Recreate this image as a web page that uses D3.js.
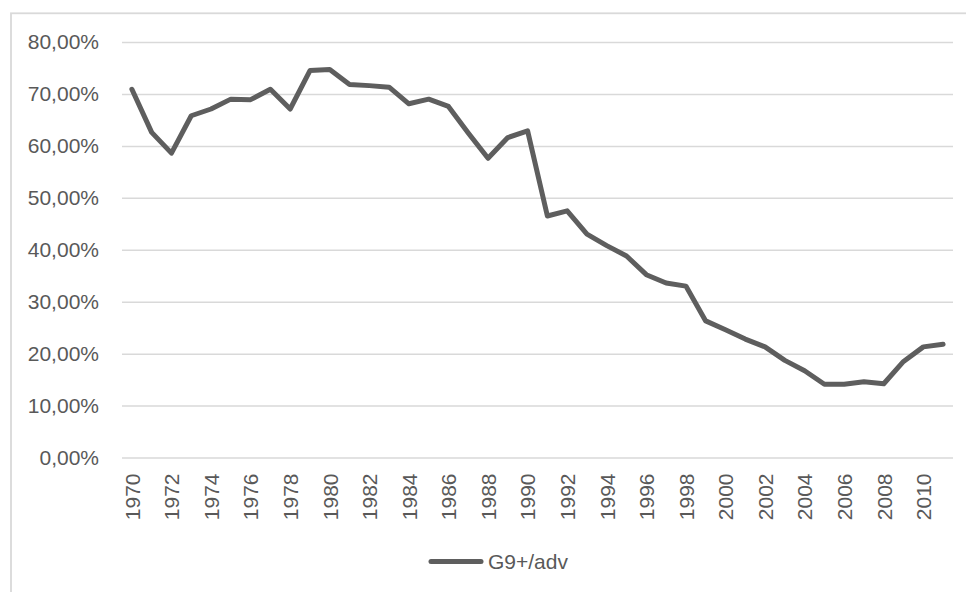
<!DOCTYPE html>
<html>
<head>
<meta charset="utf-8">
<script src="https://cdn.jsdelivr.net/npm/d3@7"></script>
<style>
  html, body { margin: 0; padding: 0; background: #fff; }
  svg { display: block; }
</style>
</head>
<body>
<svg id="chart" width="966" height="592"></svg>
<script>
const years = d3.range(1970, 2012);
const values = [
  70.9, 62.6, 58.6, 65.8, 67.1, 69.0, 68.9, 70.9, 67.1, 74.5,
  74.7, 71.8, 71.6, 71.3, 68.1, 69.0, 67.6, 62.5, 57.6, 61.6,
  62.9, 46.5, 47.5, 43.0, 40.8, 38.8, 35.2, 33.6, 33.0, 26.3,
  24.6, 22.8, 21.3, 18.7, 16.7, 14.1, 14.1, 14.6, 14.2, 18.5,
  21.3, 21.8
];
const yTicks = [0, 10, 20, 30, 40, 50, 60, 70, 80];
const xTickLabels = d3.range(1970, 2012, 2);
const seriesName = "G9+/adv";

(function () {
const svg = d3.select("#chart");
const textColor = "#595959";
const font = "'Liberation Sans', Arial, sans-serif";

// chart border
svg.append("rect")
  .attr("x", 11).attr("y", 13.3)
  .attr("width", 970).attr("height", 600)
  .attr("fill", "none").attr("stroke", "#d9d9d9").attr("stroke-width", 1.8);

const mLeft = 122, mRight = 953, mTop = 42, mBottom = 457.5;

const x = d3.scalePoint().domain(years).range([mLeft, mRight]).padding(0.5);
const y = d3.scaleLinear().domain([0, 80]).range([mBottom, mTop]);

const locale = d3.formatLocale({ decimal: ",", thousands: ".", grouping: [3], currency: ["", "€"] });
const fmt = v => locale.format(".2f")(v) + "%";

// gridlines
const grid = svg.append("g").attr("transform", `translate(${mLeft},0)`)
  .call(d3.axisLeft(y).tickValues(yTicks).tickSize(-(mRight - mLeft)).tickFormat(""));
grid.select(".domain").remove();
grid.selectAll("line").attr("stroke", "#d9d9d9").attr("stroke-width", 1.5);

// y axis labels
const yAxis = svg.append("g").attr("transform", `translate(${mLeft},0)`)
  .call(d3.axisLeft(y).tickValues(yTicks).tickSize(0).tickPadding(23).tickFormat(fmt));
yAxis.select(".domain").remove();
yAxis.selectAll("text")
  .attr("fill", textColor).style("font-family", font).style("font-size", "21px");

// x axis labels
const xAxis = svg.append("g").attr("transform", `translate(0,${mBottom})`)
  .call(d3.axisBottom(x).tickValues(xTickLabels).tickSize(0));
xAxis.select(".domain").remove();
xAxis.selectAll("text")
  .attr("fill", textColor).style("font-family", font).style("font-size", "21px")
  .attr("text-anchor", "end")
  .attr("transform", "rotate(-90)")
  .attr("x", -16).attr("y", 0).attr("dy", "0.35em");

// line
const line = d3.line().x((d, i) => x(years[i])).y(d => y(d));
svg.append("path")
  .datum(values)
  .attr("d", line)
  .attr("fill", "none")
  .attr("stroke", "#5e5e5e")
  .attr("stroke-width", 5)
  .attr("stroke-linejoin", "round")
  .attr("stroke-linecap", "round");

// legend
const lg = svg.append("g");
lg.append("line")
  .attr("x1", 431).attr("x2", 481).attr("y1", 561.5).attr("y2", 561.5)
  .attr("stroke", "#5e5e5e").attr("stroke-width", 5).attr("stroke-linecap", "round");
lg.append("text")
  .attr("x", 488).attr("y", 561.5).attr("dy", "0.35em")
  .attr("fill", textColor).style("font-family", font).style("font-size", "21px")
  .text(seriesName);
})();
</script>
</body>
</html>
